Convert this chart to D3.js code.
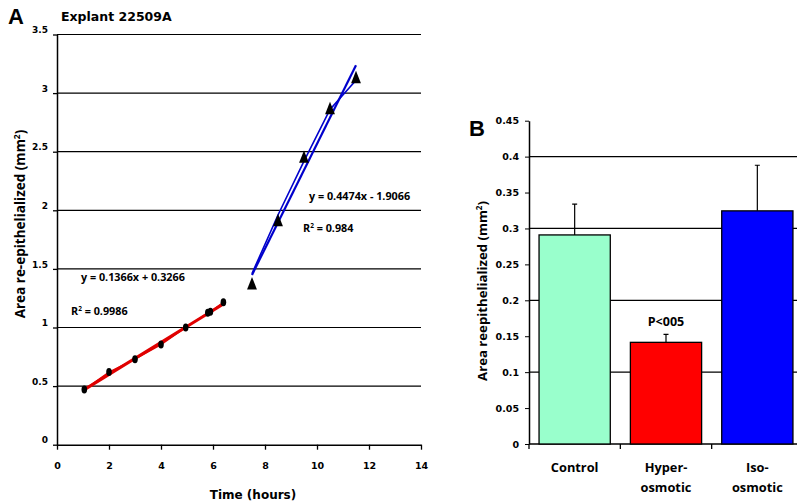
<!DOCTYPE html>
<html>
<head>
<meta charset="utf-8">
<script src="https://cdn.jsdelivr.net/npm/d3@7"></script>
<style>
  body { margin: 0; background: #fff; }
  svg { display: block; }
  .tick text { font-family: "DejaVu Sans", Verdana, sans-serif; font-weight: bold; }
</style>
</head>
<body>
<svg width="797" height="504"></svg>
<script>
const svg = d3.select('svg');

// panel A data
const earlyTime = [1.05, 2, 3, 4, 4.95, 5.8, 5.9, 6.4];
const earlyArea = [0.47, 0.62, 0.73, 0.855, 1.0, 1.125, 1.135, 1.215];
const lateTime = [7.5, 8.5, 9.5, 10.5, 11.5];
const lateArea = [1.36, 1.9, 2.44, 2.855, 3.12];
const lateLine = [1.46, 1.96, 2.42, 2.86, 3.11];
const earlyFit = [0.1366, 0.3266];   // slope, intercept
const lateFit = [0.4474, -1.9066];
const xTicksA = [0, 2, 4, 6, 8, 10, 12, 14];
const yTicksA = [0, 0.5, 1, 1.5, 2, 2.5, 3, 3.5];

// panel B data
const groups = ['Control', 'Hyper-osmotic', 'Iso-osmotic'];
const groupLines = [['Control'], ['Hyper-', 'osmotic'], ['Iso-', 'osmotic']];
const means = [0.291, 0.1415, 0.3245];
const errUp = [0.043, 0.011, 0.0635];
const barColors = ['#99ffcc', '#ff0000', '#0000ff'];
const yTicksB = [0, 0.05, 0.1, 0.15, 0.2, 0.25, 0.3, 0.35, 0.4, 0.45];

const labelFont = '"Open Sans", Lato, sans-serif';

// ---------- panel A ----------
const xA = d3.scaleLinear().domain([0, 14]).range([57, 421]);
const yA = d3.scaleLinear().domain([0, 3.5]).range([444.7, 34.5]);

const gA = svg.append('g');

gA.selectAll('.gridA')
  .data(yTicksA.filter(d => d > 0))
  .enter().append('line')
    .attr('x1', xA(0)).attr('x2', xA(14))
    .attr('y1', d => yA(d)).attr('y2', d => yA(d))
    .attr('stroke', '#000').attr('stroke-width', 1.2);

const xAxisA = gA.append('g')
  .attr('transform', `translate(0,${yA(0)})`)
  .call(d3.axisBottom(xA).tickValues(xTicksA).tickSize(5).tickPadding(13).tickSizeOuter(0));
xAxisA.selectAll('text').attr('font-size', 9.5);

const yAxisA = gA.append('g')
  .attr('transform', `translate(${xA(0)},0)`)
  .call(d3.axisLeft(yA).tickValues(yTicksA).tickSize(4).tickPadding(5).tickSizeOuter(0)
    .tickFormat(d => String(d)));
yAxisA.selectAll('text').attr('font-size', 9).attr('dy', '-0.2em');
[xAxisA, yAxisA].forEach(a => {
  a.select('.domain').attr('stroke-width', 1.5);
  a.selectAll('.tick line').attr('stroke-width', 1.3);
});

// fitted lines
const fitLine = (fit, x0, x1) => [[x0, fit[0] * x0 + fit[1]], [x1, fit[0] * x1 + fit[1]]];
const lineA = d3.line().x(d => xA(d[0])).y(d => yA(d[1]));

gA.append('path')
  .attr('d', lineA(earlyTime.map((t, i) => [t, earlyArea[i]])))
  .attr('fill', 'none').attr('stroke', '#e00000').attr('stroke-width', 1.5);
gA.append('path')
  .attr('d', lineA(fitLine(earlyFit, earlyTime[0], earlyTime[earlyTime.length - 1])))
  .attr('fill', 'none').attr('stroke', '#e00000').attr('stroke-width', 3);

gA.append('path')
  .attr('d', lineA(lateTime.map((t, i) => [t, lateLine[i]])))
  .attr('fill', 'none').attr('stroke', '#0000cc').attr('stroke-width', 1.6);
gA.append('path')
  .attr('d', lineA(fitLine(lateFit, lateTime[0], lateTime[lateTime.length - 1])))
  .attr('fill', 'none').attr('stroke', '#0000cc').attr('stroke-width', 2.2);

gA.selectAll('.dot')
  .data(earlyTime)
  .enter().append('ellipse')
    .attr('cx', d => xA(d))
    .attr('cy', (d, i) => yA(earlyArea[i]))
    .attr('rx', 2.8).attr('ry', 4)
    .attr('fill', '#000');

const tri = d3.symbol().type(d3.symbolTriangle).size(42);
gA.selectAll('.tri')
  .data(lateTime)
  .enter().append('path')
    .attr('d', tri)
    .attr('transform', (d, i) => `translate(${xA(d)},${yA(lateArea[i])}) scale(1,1.45)`)
    .attr('fill', '#000');

const eqText = (x, y, parts) => {
  const t = gA.append('text').attr('x', x).attr('y', y)
    .attr('font-family', labelFont).attr('font-weight', 'bold').attr('font-size', 10.8);
  parts.forEach(p => {
    const s = t.append('tspan').text(p.t);
    if (p.sup) s.attr('font-size', 6.5).attr('dy', -4);
    if (p.after) s.attr('dy', 4);
  });
};
eqText(309, 200, [{t: 'y = 0.4474x - 1.9066'}]);
eqText(303, 232, [{t: 'R'}, {t: '2', sup: true}, {t: ' = 0.984', after: true}]);
eqText(81, 281, [{t: 'y = 0.1366x + 0.3266'}]);
eqText(71, 315, [{t: 'R'}, {t: '2', sup: true}, {t: '  = 0.9986', after: true}]);

gA.append('text').attr('x', 8).attr('y', 24)
  .attr('font-family', '"Liberation Sans", Arial, sans-serif').attr('font-weight', 'bold')
  .attr('font-size', 22).text('A');
gA.append('text').attr('x', 61).attr('y', 21)
  .attr('font-family', '"DejaVu Sans", Verdana, sans-serif').attr('font-weight', 'bold')
  .attr('font-size', 12.5).text('Explant 22509A');
gA.append('text').attr('x', 253).attr('y', 499).attr('text-anchor', 'middle')
  .attr('font-family', '"DejaVu Sans", Verdana, sans-serif').attr('font-weight', 'bold')
  .attr('font-size', 12).text('Time (hours)');

const yLabA = gA.append('text')
  .attr('transform', 'translate(25,224) rotate(-90)').attr('text-anchor', 'middle')
  .attr('font-family', labelFont).attr('font-weight', 'bold').attr('font-size', 13.5);
yLabA.append('tspan').text('Area re-epithelialized (mm');
yLabA.append('tspan').text('2').attr('font-size', 8.5).attr('dy', -5.5);
yLabA.append('tspan').text(')').attr('dy', 5.5);

// ---------- panel B ----------
const xB = d3.scaleBand().domain(groups).range([529, 803]).paddingInner(0.22).paddingOuter(0.11);
const yB = d3.scaleLinear().domain([0, 0.45]).range([444, 120.7]);

const gB = svg.append('g');

gB.selectAll('.gridB')
  .data([0.1, 0.2, 0.3, 0.4])
  .enter().append('line')
    .attr('x1', 529).attr('x2', 803)
    .attr('y1', d => yB(d)).attr('y2', d => yB(d))
    .attr('stroke', '#000').attr('stroke-width', 1.2);

const yAxisB = gB.append('g')
  .attr('transform', 'translate(529,0)')
  .call(d3.axisLeft(yB).tickValues(yTicksB).tickSize(4).tickPadding(6).tickSizeOuter(0)
    .tickFormat(d => d === 0 ? '0' : String(+d.toFixed(2))));
yAxisB.selectAll('text').attr('font-size', 9.5);
yAxisB.select('.domain').attr('stroke-width', 1.5);

// x axis with ticks between categories
const step = xB.step();
const bounds = [529, 529 + step, 529 + 2 * step, 529 + 3 * step];
gB.append('line').attr('x1', 529).attr('x2', 803).attr('y1', yB(0)).attr('y2', yB(0))
  .attr('stroke', '#000').attr('stroke-width', 1.5);
gB.selectAll('.xtickB')
  .data(bounds)
  .enter().append('line')
    .attr('x1', d => d).attr('x2', d => d)
    .attr('y1', yB(0)).attr('y2', yB(0) + 5)
    .attr('stroke', '#000').attr('stroke-width', 1.3);

gB.selectAll('.bar')
  .data(groups)
  .enter().append('rect')
    .attr('x', d => xB(d))
    .attr('width', xB.bandwidth())
    .attr('y', (d, i) => yB(means[i]))
    .attr('height', (d, i) => yB(0) - yB(means[i]))
    .attr('fill', (d, i) => barColors[i])
    .attr('stroke', '#000').attr('stroke-width', 1.3);

gB.selectAll('.err')
  .data(groups)
  .enter().append('path')
    .attr('d', (d, i) => {
      const cx = xB(d) + xB.bandwidth() / 2;
      const top = yB(means[i] + errUp[i]);
      return `M${cx},${yB(means[i])}V${top}M${cx - 2.5},${top}H${cx + 2.5}`;
    })
    .attr('fill', 'none').attr('stroke', '#000').attr('stroke-width', 1.2);

gB.append('text')
  .attr('x', xB(groups[1]) + xB.bandwidth() / 2).attr('y', 326)
  .attr('text-anchor', 'middle')
  .attr('font-family', labelFont).attr('font-weight', 'bold').attr('font-size', 12.5)
  .text('P<005');

groupLines.forEach((lines, i) => {
  const cx = xB(groups[i]) + xB.bandwidth() / 2;
  lines.forEach((ln, j) => {
    gB.append('text').attr('x', cx).attr('y', 472 + j * 19.5).attr('text-anchor', 'middle')
      .attr('font-family', labelFont).attr('font-weight', 'bold').attr('font-size', 12.8)
      .text(ln);
  });
});

gB.append('text').attr('x', 469).attr('y', 136)
  .attr('font-family', '"Liberation Sans", Arial, sans-serif').attr('font-weight', 'bold')
  .attr('font-size', 22).text('B');

const yLabB = gB.append('text')
  .attr('transform', 'translate(487,291) rotate(-90)').attr('text-anchor', 'middle')
  .attr('font-family', labelFont).attr('font-weight', 'bold').attr('font-size', 13.2);
yLabB.append('tspan').text('Area reepithelialized (mm');
yLabB.append('tspan').text('2').attr('font-size', 8).attr('dy', -5.5);
yLabB.append('tspan').text(')').attr('dy', 5.5);
</script>
</body>
</html>
